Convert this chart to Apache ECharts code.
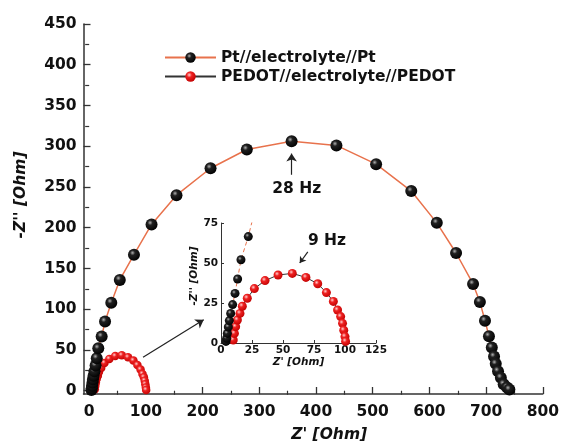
<!DOCTYPE html>
<html><head><meta charset="utf-8">
<script src="https://cdn.jsdelivr.net/npm/echarts@6/dist/echarts.min.js"></script>
<style>html,body{margin:0;padding:0;background:#fff}#c{width:562px;height:448px}</style>
</head><body><div id="c"></div>
<script>
// Pt//electrolyte//Pt  [Z', -Z'']
const ptData = [[4,1],[4.6,3],[5.1,6],[5.9,10],[6.7,14],[7.8,18.5],[9.4,24],[11.3,31],[13.4,40],[16.1,52],[22,66.5],[28,85],[39,108],[54,136],[79,167],[110,204],[154,240],[214,273],[278,296],[357,306],[436,301],[506,278],[568,245],[613,206],[647,169],[677,131],[689,109],[698,86],[705,67],[710,53],[714,42],[717,33],[721,24],[726,16],[731,8],[737,4],[741,1.5]];
// PEDOT//electrolyte//PEDOT
const pedotData = [[9.9,1.9],[10.8,6],[11.8,10.2],[13.2,14.4],[15.3,18.5],[17.2,23],[21.2,28],[26.9,34],[35.5,39],[46,42.5],[57.5,43.5],[68.5,41],[78,37],[85,31.5],[90.6,26],[94,20.6],[96.5,16.5],[98,12.3],[99,8],[100,4],[100.5,1]];
const xMajor = [0,100,200,300,400,500,600,700,800];
const xMinor = [50,150,250,350,450,550,650,750];
const yMajor = [0,50,100,150,200,250,300,350,400,450];
const yMinor = [25,75,125,175,225,275,325,375,425];
const seriesNames = ['Pt//electrolyte//Pt','PEDOT//electrolyte//PEDOT'];
const annotations = {peakPt:'28 Hz', peakPedot:'9 Hz'};

const FONT = 'DejaVu Sans';
const blackBall = {type:'radial',x:0.38,y:0.35,r:0.7,colorStops:[{offset:0,color:'#b0b0b0'},{offset:0.3,color:'#202020'},{offset:1,color:'#000'}]};
const redBall = {type:'radial',x:0.38,y:0.35,r:0.7,colorStops:[{offset:0,color:'#ffd0d0'},{offset:0.35,color:'#ee2222'},{offset:1,color:'#c00000'}]};
const axisLineStyle = {color:'#333',width:1.5};
const labelMain = {fontFamily:FONT,fontWeight:'bold',fontSize:15.5,color:'#111'};
const labelInset = {fontFamily:FONT,fontWeight:'bold',fontSize:10.5,color:'#111'};

const chart = echarts.init(document.getElementById('c'),null,{renderer:'canvas'});
chart.setOption({
  animation:false,
  backgroundColor:'#fff',
  grid:[
    {left:83.5,right:18,top:24,bottom:51},
    {left:221,top:223,width:155,height:120}
  ],
  legend:{
    orient:'vertical',left:164,top:48,padding:0,itemWidth:51,itemHeight:13,itemGap:0,
    data:seriesNames,
    textStyle:{fontFamily:FONT,fontWeight:'bold',fontSize:15.5,color:'#111',lineHeight:19}
  },
  xAxis:[
    {gridIndex:0,type:'value',min:-10,max:800,
     axisLine:{show:true,onZero:false,lineStyle:axisLineStyle},
     axisTick:{show:true,inside:true,length:7,customValues:xMajor,lineStyle:{color:'#333',width:1.3}},
     axisLabel:{customValues:xMajor,margin:10,...labelMain},
     splitLine:{show:false},
     name:"Z' [Ohm]",nameLocation:'middle',nameGap:33,
     nameTextStyle:{fontFamily:FONT,fontWeight:'bold',fontStyle:'italic',fontSize:15.5,color:'#111',padding:[0,0,0,32]}},
    {gridIndex:0,type:'value',min:-10,max:800,
     axisLine:{show:false},
     axisTick:{show:true,inside:true,length:4,customValues:xMinor,lineStyle:{color:'#333',width:1.2}},
     axisLabel:{show:false},splitLine:{show:false}},
    {gridIndex:1,type:'value',min:0,max:125,interval:25,
     axisLine:{show:true,onZero:false,lineStyle:{color:'#333',width:1}},
     axisTick:{show:true,inside:true,length:3,lineStyle:{color:'#333',width:1}},
     axisLabel:{margin:2,...labelInset},
     splitLine:{show:false},
     name:"Z' [Ohm]",nameLocation:'middle',nameGap:14,
     nameTextStyle:{fontFamily:FONT,fontWeight:'bold',fontStyle:'italic',fontSize:10.5,color:'#111'}}
  ],
  yAxis:[
    {gridIndex:0,type:'value',min:-4,max:450,
     axisLine:{show:true,onZero:false,lineStyle:axisLineStyle},
     axisTick:{show:true,inside:true,length:7,customValues:yMajor,lineStyle:{color:'#333',width:1.3}},
     axisLabel:{customValues:yMajor,margin:7,...labelMain},
     splitLine:{show:false},
     name:"-Z'' [Ohm]",nameLocation:'middle',nameGap:55,
     nameTextStyle:{fontFamily:FONT,fontWeight:'bold',fontStyle:'italic',fontSize:15.5,color:'#111',padding:[0,0,0,28]}},
    {gridIndex:0,type:'value',min:-4,max:450,
     axisLine:{show:false},
     axisTick:{show:true,inside:true,length:4,customValues:yMinor,lineStyle:{color:'#333',width:1.2}},
     axisLabel:{show:false},splitLine:{show:false}},
    {gridIndex:1,type:'value',min:0,max:75,interval:25,
     axisLine:{show:true,onZero:false,lineStyle:{color:'#333',width:1}},
     axisTick:{show:true,inside:true,length:3,lineStyle:{color:'#333',width:1}},
     axisLabel:{margin:3,...labelInset},
     splitLine:{show:false},
     name:"-Z'' [Ohm]",nameLocation:'middle',nameGap:18,
     nameTextStyle:{fontFamily:FONT,fontWeight:'bold',fontStyle:'italic',fontSize:10.5,color:'#111',padding:[0,0,0,14]}}
  ],
  series:[
    {name:seriesNames[0],type:'line',xAxisIndex:0,yAxisIndex:0,data:ptData,
     symbol:'circle',symbolSize:12,showAllSymbol:true,z:4,
     lineStyle:{color:'#e8724c',width:1.5},itemStyle:{color:blackBall},
     markLine:{silent:true,symbol:['none','arrow'],symbolSize:8,
       lineStyle:{color:'#222',width:1.2,type:'solid'},label:{show:false},
       data:[[{coord:[95,41]},{coord:[202,87]}],[{coord:[357,265]},{coord:[357,291]}]]},
     markPoint:{silent:true,symbol:'rect',symbolSize:1,itemStyle:{color:'rgba(0,0,0,0)'},
       data:[{coord:[366,248],label:{show:true,position:'inside',formatter:annotations.peakPt,fontFamily:FONT,fontWeight:'bold',fontSize:15.5,color:'#111'}}]}
    },
    {name:seriesNames[1],type:'line',xAxisIndex:0,yAxisIndex:0,data:pedotData,
     symbol:'circle',symbolSize:8.5,showAllSymbol:true,z:3,
     lineStyle:{color:'#333',width:1},itemStyle:{color:redBall}},
    {name:'inset-pt',type:'line',xAxisIndex:2,yAxisIndex:2,data:ptData,
     symbol:'circle',symbolSize:9,showAllSymbol:true,clip:true,z:4,
     lineStyle:{color:'#e8724c',width:1,type:[4,3]},itemStyle:{color:blackBall}},
    {name:'inset-pedot',type:'line',xAxisIndex:2,yAxisIndex:2,data:pedotData,
     symbol:'circle',symbolSize:9,showAllSymbol:true,clip:true,z:3,
     lineStyle:{color:'#333',width:1},itemStyle:{color:redBall},
     markLine:{silent:true,symbol:['none','arrow'],symbolSize:6,
       lineStyle:{color:'#222',width:1.2,type:'solid'},label:{show:false},
       data:[[{coord:[70,57]},{coord:[63.5,50]}]]},
     markPoint:{silent:true,symbol:'rect',symbolSize:1,itemStyle:{color:'rgba(0,0,0,0)'},
       data:[{coord:[85.5,64],label:{show:true,position:'inside',formatter:annotations.peakPedot,fontFamily:FONT,fontWeight:'bold',fontSize:15.5,color:'#111'}}]}
    }
  ]
});
</script>
</body></html>
